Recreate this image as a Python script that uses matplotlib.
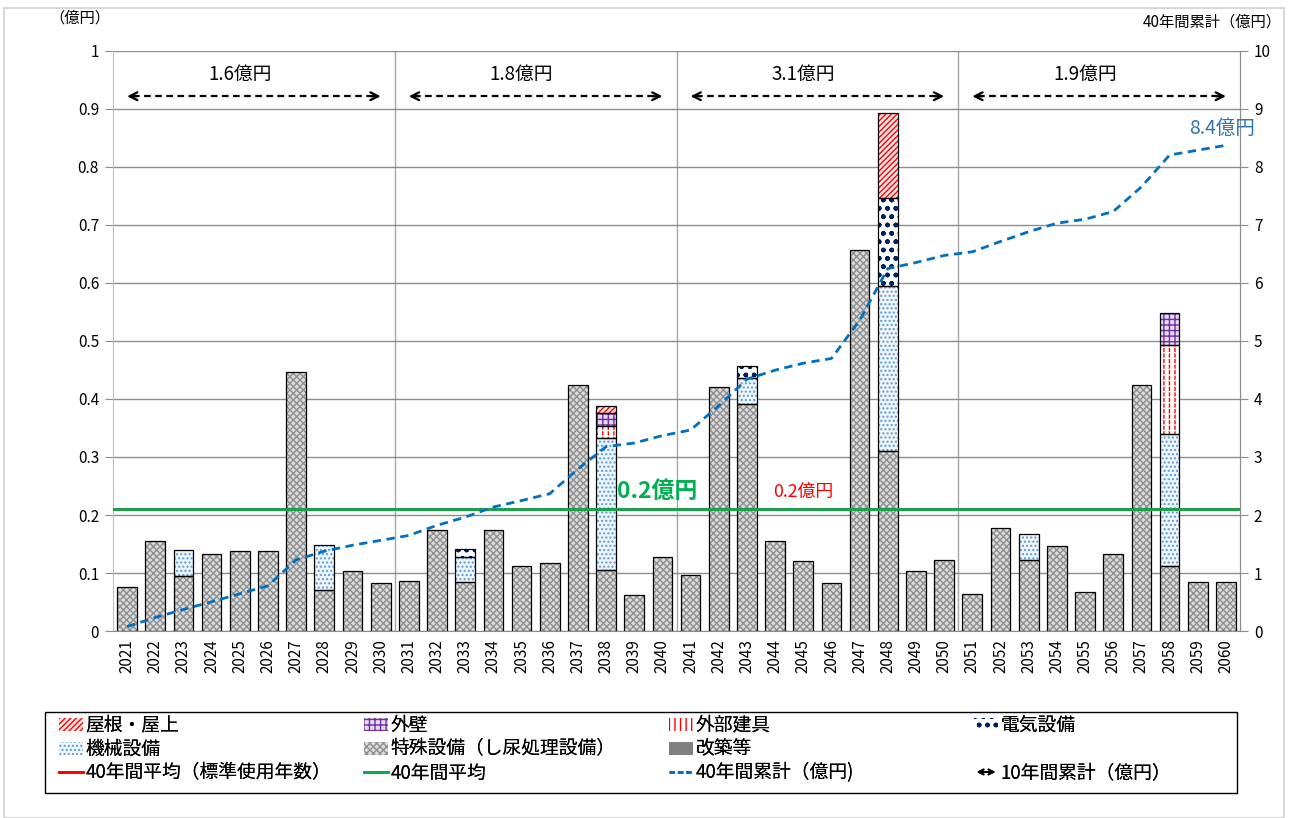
import matplotlib
matplotlib.use("Agg")
import matplotlib.pyplot as plt
from matplotlib.patches import Rectangle, FancyArrowPatch, Patch
from matplotlib.lines import Line2D
from matplotlib.legend_handler import HandlerBase
import numpy as np

plt.rcParams['font.family'] = ['Noto Sans CJK JP', 'DejaVu Sans']
plt.rcParams['hatch.linewidth'] = 1.0

years = [str(y) for y in range(2021, 2061)]

special = [0.076, 0.156, 0.094, 0.132, 0.138, 0.138, 0.447, 0.070, 0.103, 0.083,
           0.086, 0.174, 0.084, 0.174, 0.112, 0.118, 0.424, 0.105, 0.062, 0.128,
           0.096, 0.420, 0.391, 0.155, 0.120, 0.082, 0.657, 0.311, 0.104, 0.122,
           0.063, 0.178, 0.122, 0.147, 0.068, 0.133, 0.425, 0.112, 0.084, 0.084]
renovation = [0.0] * 40
machinery = [0, 0, 0.046, 0, 0, 0, 0, 0.079, 0, 0,
             0, 0, 0.044, 0, 0, 0, 0, 0.227, 0, 0,
             0, 0, 0.045, 0, 0, 0, 0, 0.283, 0, 0,
             0, 0, 0.046, 0, 0, 0, 0, 0.228, 0, 0]
electrical = [0, 0, 0, 0, 0, 0, 0, 0, 0, 0,
              0, 0, 0.013, 0, 0, 0, 0, 0, 0, 0,
              0, 0, 0.021, 0, 0, 0, 0, 0.153, 0, 0,
              0, 0, 0, 0, 0, 0, 0, 0, 0, 0]
exterior = [0, 0, 0, 0, 0, 0, 0, 0, 0, 0,
            0, 0, 0, 0, 0, 0, 0, 0.022, 0, 0,
            0, 0, 0, 0, 0, 0, 0, 0, 0, 0,
            0, 0, 0, 0, 0, 0, 0, 0.153, 0, 0]
wall = [0, 0, 0, 0, 0, 0, 0, 0, 0, 0,
        0, 0, 0, 0, 0, 0, 0, 0.021, 0, 0,
        0, 0, 0, 0, 0, 0, 0, 0, 0, 0,
        0, 0, 0, 0, 0, 0, 0, 0.056, 0, 0]
roof = [0, 0, 0, 0, 0, 0, 0, 0, 0, 0,
        0, 0, 0, 0, 0, 0, 0, 0.013, 0, 0,
        0, 0, 0, 0, 0, 0, 0, 0.146, 0, 0,
        0, 0, 0, 0, 0, 0, 0, 0, 0, 0]
cumulative = [0.076, 0.232, 0.372, 0.504, 0.642, 0.780, 1.227, 1.376, 1.479, 1.562,
              1.648, 1.822, 1.963, 2.137, 2.249, 2.367, 2.791, 3.179, 3.241, 3.369,
              3.465, 3.885, 4.342, 4.497, 4.617, 4.699, 5.356, 6.249, 6.353, 6.475,
              6.538, 6.716, 6.884, 7.031, 7.099, 7.232, 7.657, 8.206, 8.290, 8.374]
avg_standard = 0.21
avg_40 = 0.21
decade_labels = ['1.6億円', '1.8億円', '3.1億円', '1.9億円']
total_label = '8.4億円'
avg_label = '0.2億円'

fig = plt.figure(figsize=(12.95, 8.18), dpi=100)
ax = fig.add_axes([113/1295, 1 - 631/818, (1240-113)/1295, (631-51)/818])
ax2 = ax.twinx()

x = np.arange(len(years))
w = 0.7

STY = {
    'reno': ('#808080', '#808080', None),
    'spec': ('#dcdcdc', '#8f8f8f', 'xxxxx'),
    'mach': ('#eef5fc', '#5b9bd5', '....'),
    'elec': ('white', '#002060', 'oo..'),
    'ext': ('white', '#ff0000', '|||'),
    'wall': ('#e6d9f2', '#7030a0', '+++'),
    'roof': ('#ffe6e6', '#ff0000', '//////'),
}
series = [(renovation, 'reno'), (special, 'spec'), (machinery, 'mach'), (electrical, 'elec'),
          (exterior, 'ext'), (wall, 'wall'), (roof, 'roof')]
bottom = np.zeros(len(years))
for vals, key in series:
    face, hc, hatch = STY[key]
    v = np.array(vals, dtype=float)
    m = v > 0
    if m.any():
        ax.bar(x[m], v[m], w, bottom=bottom[m], facecolor=face, edgecolor=hc,
               hatch=hatch, linewidth=0, zorder=2)
        if key == 'ext':
            ax.bar(x[m], v[m], w, bottom=bottom[m], facecolor='none', edgecolor='white',
                   hatch='---', linewidth=0, zorder=2.1)
        ax.bar(x[m], v[m], w, bottom=bottom[m], facecolor='none', edgecolor='black',
               linewidth=0.9, zorder=2.2)
    bottom += v

ax.axhline(avg_standard, color='#ff0000', lw=2, zorder=3)
ax.axhline(avg_40, color='#00b050', lw=2, zorder=3.1)
ax.text(18.8, 0.241, avg_label, color='#00b050', fontsize=16.5, fontweight='bold',
        ha='center', va='center', zorder=4)
ax.text(24.0, 0.24, avg_label, color='#ff0000', fontsize=12.8, ha='center', va='center', zorder=4)

for d in range(4):
    x0, x1 = d*10, d*10 + 9
    ya = 0.922
    ax.plot([x0 + 0.2, x1 - 0.2], [ya, ya], color='black', lw=1.6, ls=(0, (3, 2)), zorder=4)
    for xa, xb in [(x0, x0 + 0.35), (x1, x1 - 0.35)]:
        ax.annotate('', xy=(xa, ya), xytext=(xb, ya),
                    arrowprops=dict(arrowstyle='->', lw=1.6, color='black', mutation_scale=14,
                                    shrinkA=0, shrinkB=0), zorder=4)
    ax.text(x0 + 4.0, 0.959, decade_labels[d], fontsize=13.5, ha='center', va='center')

ax.set_xlim(-0.5, len(years) - 0.5)
ax.set_ylim(0, 1)
ax.set_yticks(np.arange(0, 1.01, 0.1))
ax.set_yticklabels(['0'] + [f'{v:.1f}' for v in np.arange(0.1, 0.95, 0.1)] + ['1'])
ax.set_xticks(x)
ax.set_xticklabels(years, rotation=90, fontsize=11)
ax.tick_params(axis='x', length=0, pad=6)
ax.tick_params(axis='y', labelsize=11, length=6, color='#8c8c8c', pad=4)
ax.yaxis.grid(True, color='#8c8c8c', lw=1)
for xv in [9.5, 19.5, 29.5]:
    ax.axvline(xv, color='#a6a6a6', lw=1, zorder=0.5)
ax.set_axisbelow(True)
ax.spines['top'].set_visible(False)
ax.spines['left'].set_color('#bfbfbf')
ax.spines['bottom'].set_color('#8c8c8c')
ax.spines['right'].set_color('#8c8c8c')

ax2.plot(x, cumulative, color='#0070c0', lw=2, ls=(0, (3, 2)), zorder=5)
ax2.set_ylim(0, 10)
ax2.set_yticks(range(0, 11))
ax2.tick_params(axis='y', labelsize=11, length=6, color='#8c8c8c', pad=4)
ax2.text(38.85, 8.66, total_label, color='#2e75b6', fontsize=14, ha='center', va='center')
for s in ['top', 'left', 'bottom']:
    ax2.spines[s].set_visible(False)
ax2.spines['right'].set_color('#8c8c8c')

fig.text(80/1295, 1 - 18/818, '（億円）', fontsize=11, ha='center', va='center')
fig.text(1282/1295, 1 - 22/818, '40年間累計（億円）', fontsize=11, ha='right', va='center')

fig.patches.append(Rectangle((4/1295, 0), (1284-4)/1295, (818-8)/818, transform=fig.transFigure,
                             fill=False, edgecolor='#d0d0d0', lw=1.2))


class ArrowHandler(HandlerBase):
    def create_artists(self, legend, orig_handle, xdescent, ydescent, width, height, fontsize, trans):
        y = height / 2 - ydescent
        a = FancyArrowPatch((-xdescent, y), (width - xdescent, y), arrowstyle='<->',
                            mutation_scale=9, lw=1.3, color='black', transform=trans)
        return [a]


def ph(key):
    face, hc, hatch = STY[key]
    return Patch(facecolor=face, edgecolor=hc, hatch=hatch, lw=0)

h_red = Line2D([], [], color='#ff0000', lw=2)
h_green = Line2D([], [], color='#00b050', lw=2)
h_blue = Line2D([], [], color='#0070c0', lw=2, ls=(0, (2, 1)))
h_arrow = Line2D([], [], color='black')
h_blank = Line2D([], [], color='none')

cols = [
    (57, [ph('roof'), ph('mach'), h_red], ['屋根・屋上', '機械設備', '40年間平均（標準使用年数）']),
    (362, [ph('wall'), ph('spec'), h_green], ['外壁', '特殊設備（し尿処理設備）', '40年間平均']),
    (667, [ph('ext'), ph('reno'), h_blue], ['外部建具', '改築等', '40年間累計（億円)']),
    (972, [ph('elec'), h_blank, h_arrow], ['電気設備', ' ', '10年間累計（億円）']),
]
for xp, hs, ls in cols:
    lg = fig.legend(hs, ls, loc='upper left', bbox_to_anchor=(xp/1295, 1 - 713/818),
                    fontsize=13.5, frameon=False, handlelength=1.3, handleheight=0.7,
                    handletextpad=0.12, borderaxespad=0, borderpad=0.1, labelspacing=0.15,
                    handler_map={h_arrow: ArrowHandler()})
    fig.add_artist(lg)

fig.patches.append(Rectangle((45/1295, 1 - 793/818), (1237-45)/1295, (793-712)/818,
                             transform=fig.transFigure, fill=False, edgecolor='black', lw=1.0))

fig.savefig('out.png', dpi=100)
